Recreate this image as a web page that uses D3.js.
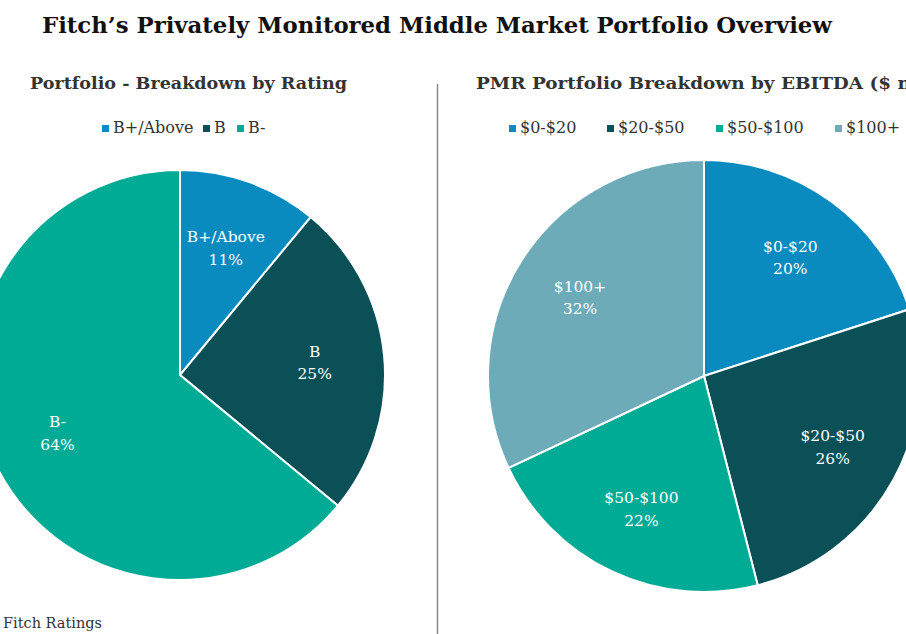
<!DOCTYPE html>
<html>
<head>
<meta charset="utf-8">
<script src="https://cdn.jsdelivr.net/npm/d3@7"></script>
<style>
  body { margin: 0; background: #fff; }
  svg { display: block; font-family: "DejaVu Serif", "Liberation Serif", serif; }
</style>
</head>
<body>
<div id="chart"></div>
<script>
// ------------------------------------------
//  Data
// ------------------------------------------
const ratingNames = ["B+/Above", "B", "B-"]
const ratingShares = [11, 25, 64]
const ratingColors = ["#0a8bbf", "#0b5057", "#00ab96"]

const ebitdaNames = ["$0-$20", "$20-$50", "$50-$100", "$100+"]
const ebitdaShares = [20, 26, 22, 32]
const ebitdaColors = ["#0a8bbf", "#0b5057", "#00ab96", "#6dabb9"]

// ------------------------------------------
//  Layout
// ------------------------------------------
const width = 906, height = 634

const svg = d3.select("#chart").append("svg")
    .attr("width", width)
    .attr("height", height)

svg.append("text")
    .attr("x", 42).attr("y", 33)
    .attr("font-size", 23).attr("font-weight", "bold")
    .attr("fill", "#111")
    .attr("textLength", 790).attr("lengthAdjust", "spacingAndGlyphs")
    .text("Fitch\u2019s Privately Monitored Middle Market Portfolio Overview")

// divider
svg.append("line")
    .attr("x1", 437.5).attr("x2", 437.5)
    .attr("y1", 84).attr("y2", height)
    .attr("stroke", "#8a8a8a").attr("stroke-width", 1.5)

svg.append("text")
    .attr("x", 3).attr("y", 628)
    .attr("font-size", 14.5).attr("fill", "#333")
    .text("Fitch Ratings")

// ------------------------------------------
//  Pie
// ------------------------------------------
function drawPie(opts) {
    const g = svg.append("g")

    g.append("text")
        .attr("x", opts.titleX).attr("y", 89)
        .attr("font-size", 17).attr("font-weight", "bold")
        .attr("fill", "#333")
        .attr("textLength", opts.titleLen).attr("lengthAdjust", "spacingAndGlyphs")
        .text(opts.title)

    // legend
    const legend = g.selectAll(".legend")
        .data(opts.names)
        .enter().append("g")
        .attr("class", "legend")
        .attr("transform", (d, i) => `translate(${opts.legendX[i]},133)`)

    legend.append("rect")
        .attr("x", 0).attr("y", -8)
        .attr("width", 7).attr("height", 7)
        .attr("fill", (d, i) => opts.colors[i])

    legend.append("text")
        .attr("x", 11).attr("y", 0)
        .attr("font-size", 16).attr("fill", "#333")
        .text(d => d)

    const pie = d3.pie().sort(null)
    const arcs = pie(opts.values)

    const arc = d3.arc().innerRadius(0).outerRadius(opts.r)
    const labelArc = d3.arc()
        .innerRadius(opts.r * opts.labelRatio)
        .outerRadius(opts.r * opts.labelRatio)

    const chart = g.append("g")
        .attr("transform", `translate(${opts.cx},${opts.cy})`)

    chart.selectAll(".slice")
        .data(arcs)
        .enter().append("path")
        .attr("class", "slice")
        .attr("d", arc)
        .attr("fill", (d, i) => opts.colors[i])
        .attr("stroke", "#fff")
        .attr("stroke-width", 2)

    const labels = chart.selectAll(".label")
        .data(arcs)
        .enter().append("text")
        .attr("class", "label")
        .attr("transform", d => `translate(${labelArc.centroid(d)})`)
        .attr("text-anchor", "middle")
        .attr("font-size", 15.5)
        .attr("fill", "#fff")

    labels.append("tspan")
        .attr("x", 0).attr("dy", "-0.35em")
        .text((d, i) => opts.names[i])
    labels.append("tspan")
        .attr("x", 0).attr("dy", "1.45em")
        .text(d => d.data + "%")
}

drawPie({
    title: "Portfolio - Breakdown by Rating",
    titleX: 30, titleLen: 317,
    names: ratingNames, values: ratingShares, colors: ratingColors,
    legendX: [102, 203, 237],
    cx: 180, cy: 375, r: 205, labelRatio: 0.66
})

drawPie({
    title: "PMR Portfolio Breakdown by EBITDA ($ mil.)",
    titleX: 476, titleLen: 470,
    names: ebitdaNames, values: ebitdaShares, colors: ebitdaColors,
    legendX: [509, 607, 716, 835],
    cx: 704, cy: 376, r: 216, labelRatio: 0.68
})
</script>
</body>
</html>
